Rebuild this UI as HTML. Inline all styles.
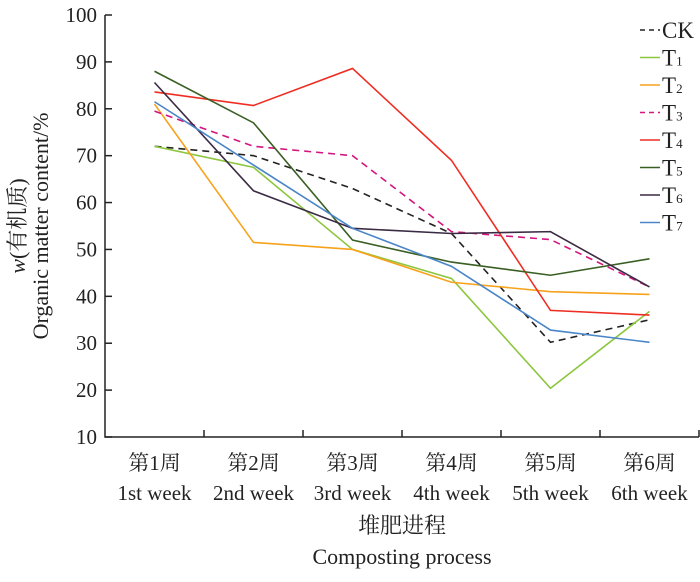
<!DOCTYPE html>
<html><head><meta charset="utf-8"><style>
body{margin:0;background:#fff}
text{font-family:"Liberation Serif","Noto Serif CJK SC",serif;fill:#222}
</style></head><body>
<svg id="c" width="700" height="577" xmlns="http://www.w3.org/2000/svg"></svg>
<script>
const categoriesCN=["第1周","第2周","第3周","第4周","第5周","第6周"];
const categoriesEN=["1st week","2nd week","3rd week","4th week","5th week","6th week"];
const yTicks=[10,20,30,40,50,60,70,80,90,100];
const seriesNames=["CK","T1","T2","T3","T4","T5","T6","T7"];
const ck=[72,70,63,53.4,30.2,35];
const t1=[72,67.5,50,43.8,20.4,36.8];
const t2=[81,51.5,50,43,41,40.4];
const t3=[79.5,72,70,53.8,52.1,42];
const t4=[83.6,80.7,88.6,69,37,36];
const t5=[88,77,52,47.3,44.5,48];
const t6=[85.6,62.5,54.5,53.4,53.8,42];
const t7=[81.5,68,54.5,46.4,32.8,30.2];
const seriesData=[ck,t1,t2,t3,t4,t5,t6,t7];
const colors=["#222","#8dc63f","#f7a21b","#d4147f","#ee2e24","#3a5f24","#3b2a44","#4a86c8"];
const dashed=[true,false,false,true,false,false,false,false];
const svg=document.getElementById('c');const NS="http://www.w3.org/2000/svg";
const X0=105,X1=699,Y0=437,Y1=15;
const xs=i=>X0+(X1-X0)/6*(i+0.5);
const ys=v=>Y0-(v-10)/90*(Y0-Y1);
function mk(t,a,p){const e=document.createElementNS(NS,t);for(const k in a)e.setAttribute(k,a[k]);(p||svg).appendChild(e);return e;}
let ax=mk('path',{d:`M${X0},${Y1}V${Y0}H${X1}`,stroke:'#222','stroke-width':1.5,fill:'none'});


yTicks.forEach(v=>{const y=ys(v);
 const l=mk('line',{x1:X0,x2:X0+7,y1:y,y2:y,stroke:'#222','stroke-width':1.5});
 
 
 const t=mk('text',{x:X0-8,y:y+7,'text-anchor':'end','font-size':21});t.textContent=v;
 
 });
for(let i=1;i<=6;i++){const x=X0+(X1-X0)/6*i;
 const l=mk('line',{x1:x,x2:x,y1:Y0,y2:Y0-7,stroke:'#222','stroke-width':1.5});
 
 }
categoriesCN.forEach((c,i)=>{
 const t=mk('text',{x:xs(i),y:470,'text-anchor':'middle','font-size':21});t.textContent=c;
 
 
 const t2=mk('text',{x:xs(i),y:500,'text-anchor':'middle','font-size':21});t2.textContent=categoriesEN[i];
 
 });
let xt=mk('text',{x:402,y:533,'text-anchor':'middle','font-size':22});xt.textContent="堆肥进程";


let xt2=mk('text',{x:402,y:564,'text-anchor':'middle','font-size':22});xt2.textContent="Composting process";


let yt=mk('text',{transform:'translate(25,226) rotate(-90)','text-anchor':'middle','font-size':22});yt.innerHTML='<tspan font-style="italic">w</tspan>(有机质)';


let yt2=mk('text',{transform:'translate(48,226) rotate(-90)','text-anchor':'middle','font-size':22});yt2.textContent="Organic matter content/%";


seriesData.forEach((d,s)=>{
 const p=mk('polyline',{points:d.map((v,i)=>xs(i)+','+ys(v)).join(' '),fill:'none',stroke:colors[s],'stroke-width':1.6,'stroke-dasharray':dashed[s]?'7,5':'none'});
 
 
 const ly=30+s*27.5;
 const g=mk('g',{});
 
 
 mk('line',{x1:640,x2:660,y1:ly,y2:ly,stroke:colors[s],'stroke-width':1.6,'stroke-dasharray':dashed[s]?'5,4':'none'},g);
 const t=mk('text',{x:662,y:ly+8,'font-size':23},g);
 t.innerHTML=s==0?'CK':'T<tspan font-size="13">'+s+'</tspan>';
});
</script>
</body></html>
